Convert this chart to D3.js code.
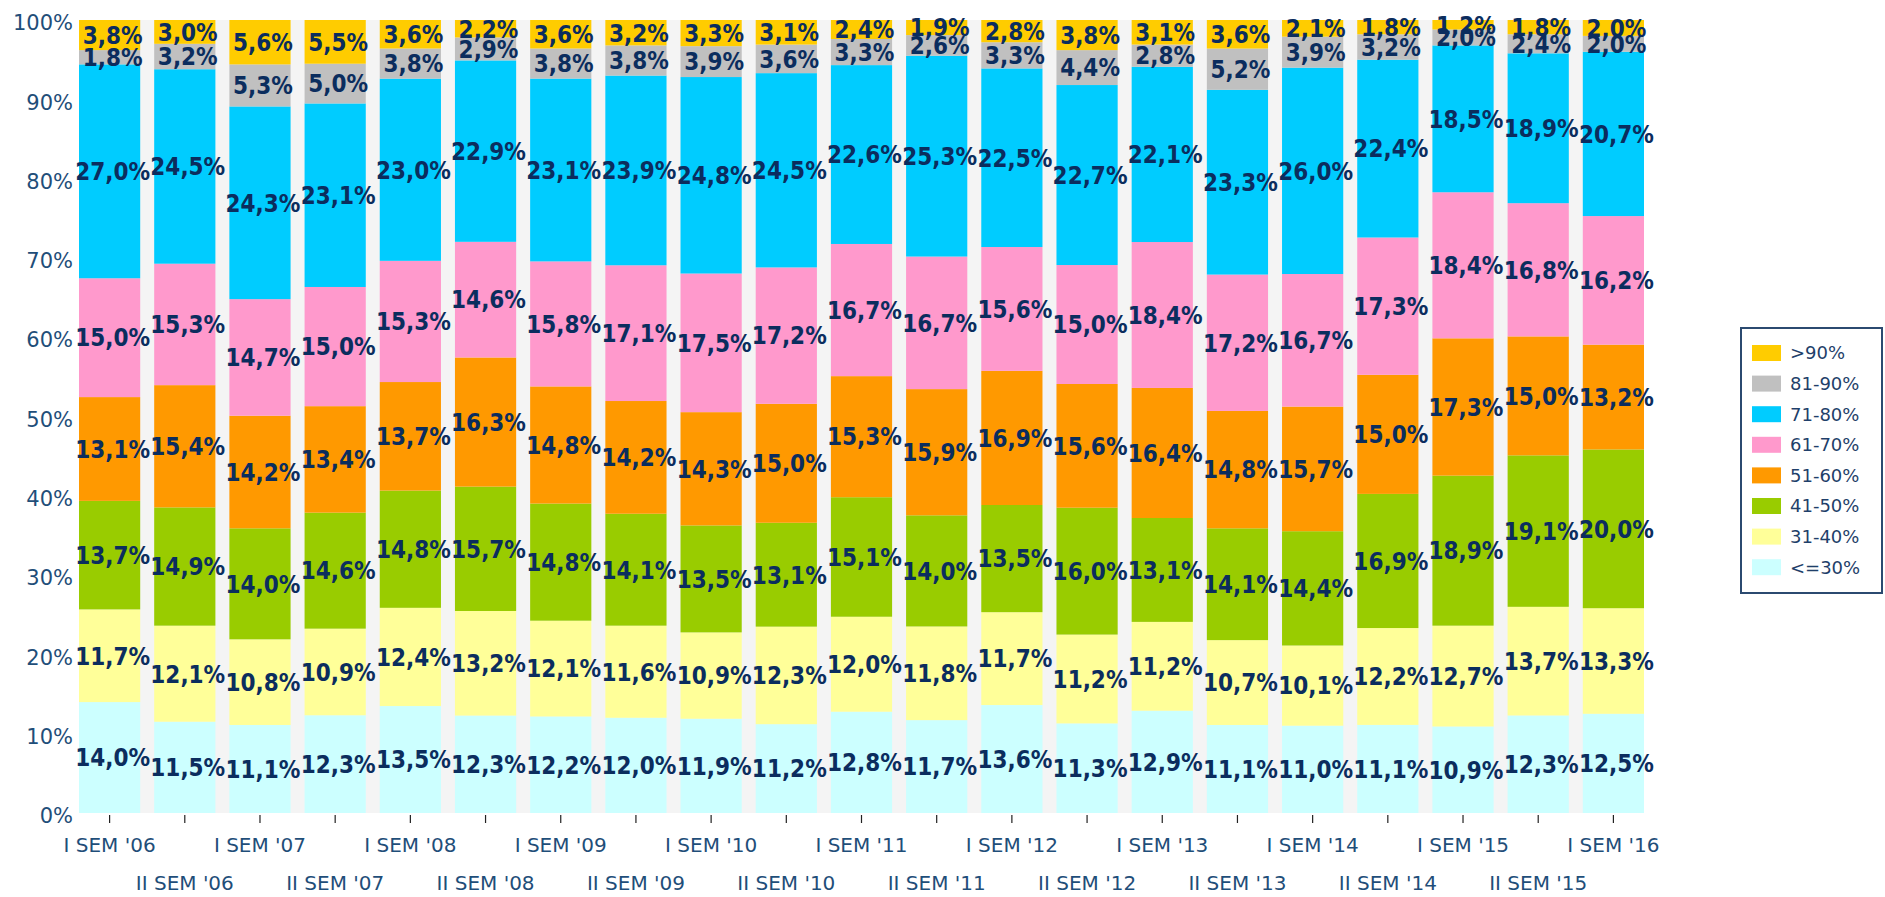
<!DOCTYPE html>
<html>
<head>
<meta charset="utf-8">
<script src="https://cdn.jsdelivr.net/npm/d3@7"></script>
<style>
  html, body { margin: 0; padding: 0; background: #ffffff; }
  svg { display: block; }
</style>
</head>
<body>
<svg id="chart" width="1885" height="897"></svg>
<script>
const categories = ["I SEM '06","II SEM '06","I SEM '07","II SEM '07","I SEM '08","II SEM '08","I SEM '09","II SEM '09","I SEM '10","II SEM '10","I SEM '11","II SEM '11","I SEM '12","II SEM '12","I SEM '13","II SEM '13","I SEM '14","II SEM '14","I SEM '15","II SEM '15","I SEM '16"];

const seriesNames = ["<=30%","31-40%","41-50%","51-60%","61-70%","71-80%","81-90%",">90%"];
const seriesColors = ["#CCFFFF","#FFFF99","#99CC00","#FF9900","#FF99CC","#00CCFF","#C0C0C0","#FFCC00"];

const le30   = [14.0,11.5,11.1,12.3,13.5,12.3,12.2,12.0,11.9,11.2,12.8,11.7,13.6,11.3,12.9,11.1,11.0,11.1,10.9,12.3,12.5];
const r31_40 = [11.7,12.1,10.8,10.9,12.4,13.2,12.1,11.6,10.9,12.3,12.0,11.8,11.7,11.2,11.2,10.7,10.1,12.2,12.7,13.7,13.3];
const r41_50 = [13.7,14.9,14.0,14.6,14.8,15.7,14.8,14.1,13.5,13.1,15.1,14.0,13.5,16.0,13.1,14.1,14.4,16.9,18.9,19.1,20.0];
const r51_60 = [13.1,15.4,14.2,13.4,13.7,16.3,14.8,14.2,14.3,15.0,15.3,15.9,16.9,15.6,16.4,14.8,15.7,15.0,17.3,15.0,13.2];
const r61_70 = [15.0,15.3,14.7,15.0,15.3,14.6,15.8,17.1,17.5,17.2,16.7,16.7,15.6,15.0,18.4,17.2,16.7,17.3,18.4,16.8,16.2];
const r71_80 = [27.0,24.5,24.3,23.1,23.0,22.9,23.1,23.9,24.8,24.5,22.6,25.3,22.5,22.7,22.1,23.3,26.0,22.4,18.5,18.9,20.7];
const r81_90 = [1.8,3.2,5.3,5.0,3.8,2.9,3.8,3.8,3.9,3.6,3.3,2.6,3.3,4.4,2.8,5.2,3.9,3.2,2.0,2.4,2.0];
const gt90   = [3.8,3.0,5.6,5.5,3.6,2.2,3.6,3.2,3.3,3.1,2.4,1.9,2.8,3.8,3.1,3.6,2.1,1.8,1.2,1.8,2.0];

const yTicks = [0,0.1,0.2,0.3,0.4,0.5,0.6,0.7,0.8,0.9,1.0];

const seriesValues = [le30, r31_40, r41_50, r51_60, r61_70, r71_80, r81_90, gt90];
const table = categories.map((c, i) => {
  const row = { cat: c };
  seriesNames.forEach((s, k) => { row[s] = seriesValues[k][i]; });
  return row;
});

const svg = d3.select("#chart");
const plot = { left: 79, right: 1644, top: 20, bottom: 813 };

const x = d3.scaleBand().domain(categories).range([plot.left, plot.right]).paddingInner(0.186).paddingOuter(0);
const y = d3.scaleLinear().domain([0, 1]).range([plot.bottom, plot.top]);
const color = d3.scaleOrdinal().domain(seriesNames).range(seriesColors);

const stacked = d3.stack().keys(seriesNames).offset(d3.stackOffsetExpand)(table);

// plot background
svg.append("rect")
  .attr("x", plot.left).attr("y", plot.top)
  .attr("width", plot.right - plot.left).attr("height", plot.bottom - plot.top)
  .attr("fill", "#F4F4F4");

// bars
const layers = svg.append("g").selectAll("g").data(stacked).join("g")
  .attr("fill", d => color(d.key));
layers.selectAll("rect").data(d => d).join("rect")
  .attr("x", d => x(d.data.cat))
  .attr("y", d => y(d[1]))
  .attr("width", x.bandwidth())
  .attr("height", d => y(d[0]) - y(d[1]));

// labels
const fmt = v => d3.format(".1f")(v).replace(".", ",") + "%";
const labelG = svg.append("g")
  .attr("font-family", "'DejaVu Sans', 'Liberation Sans', sans-serif")
  .attr("font-weight", "bold")
  .attr("font-size", 24)
  .attr("fill", "#0B2D5E")
  .attr("text-anchor", "middle");
stacked.forEach(layer => {
  layer.forEach(d => {
    const cx = x(d.data.cat) + x.bandwidth() / 2 + 3;
    const cy = (y(d[0]) + y(d[1])) / 2;
    labelG.append("text")
      .attr("transform", `translate(${cx},${cy}) scale(0.9,1.02)`)
      .attr("dy", "0.36em")
      .text(fmt(d.data[layer.key]));
  });
});

// y axis
const yAxis = svg.append("g")
  .attr("transform", `translate(${plot.left},0)`)
  .call(d3.axisLeft(y).tickValues(yTicks).tickFormat(d3.format(".0%")).tickSize(0).tickPadding(6));
yAxis.select(".domain").remove();
yAxis.selectAll("text")
  .attr("font-family", "'DejaVu Sans', sans-serif")
  .attr("font-size", 21)
  .attr("fill", "#1F4E79")
  .attr("y", 3);

// x axis
const xAxis = svg.append("g")
  .attr("transform", `translate(0,${plot.bottom + 2})`)
  .call(d3.axisBottom(x).tickSize(8).tickPadding(0));
xAxis.select(".domain").remove();
xAxis.selectAll(".tick line").attr("stroke", "#222").attr("stroke-width", 1.2);
xAxis.selectAll("text")
  .attr("font-family", "'DejaVu Sans', sans-serif")
  .attr("font-size", 20)
  .attr("fill", "#1F4E79")
  .attr("dy", 0)
  .attr("y", (d, i) => i % 2 === 0 ? 37 : 75);

// legend
const legend = svg.append("g");
legend.append("rect")
  .attr("x", 1741).attr("y", 328).attr("width", 141).attr("height", 265)
  .attr("fill", "#fff").attr("stroke", "#2B4A70").attr("stroke-width", 2);
const legendOrder = seriesNames.slice().reverse();
const li = legend.selectAll("g.item").data(legendOrder).join("g")
  .attr("class", "item")
  .attr("transform", (d, i) => `translate(1752,${353 + i * 30.6})`);
li.append("rect")
  .attr("x", 0).attr("y", -8).attr("width", 29).attr("height", 16)
  .attr("fill", d => color(d));
li.append("text")
  .attr("x", 38).attr("y", 0).attr("dy", "0.36em")
  .attr("font-family", "'DejaVu Sans', sans-serif")
  .attr("font-size", 18)
  .attr("fill", "#1F3F6A")
  .text(d => d);
</script>
</body>
</html>
